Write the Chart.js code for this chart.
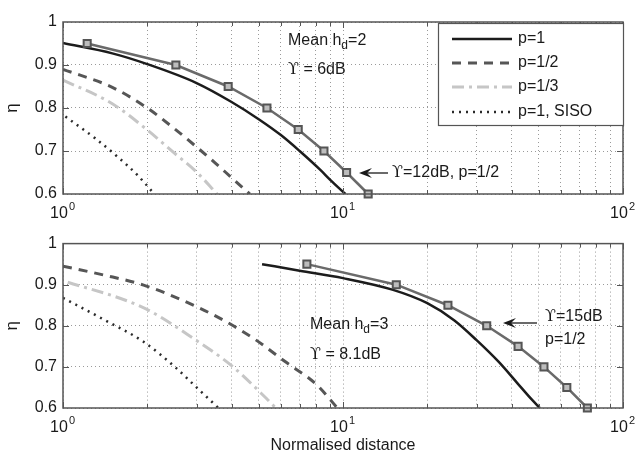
<!DOCTYPE html>
<html>
<head>
<meta charset="utf-8">
<script src="https://cdn.jsdelivr.net/npm/chart.js@4.4.1/dist/chart.umd.min.js"></script>
<style>
  body { margin: 0; background: #fff; }
  #wrap { position: relative; width: 636px; height: 456px; }
  canvas { position: absolute; left: 0; }
</style>
</head>
<body>
<div id="wrap">
  <canvas id="topChart" width="636" height="228" style="top:0"></canvas>
  <canvas id="botChart" width="636" height="228" style="top:228px"></canvas>
</div>
<script>
// grid positions on the log axis, and the labelled decades
const xGrid = [1, 2, 3, 4, 5, 6, 7, 8, 9, 10, 20, 30, 40, 50, 60, 70, 80, 90, 100];
const xTickValues = [1, 10, 100];
const xTickExps = ['0', '1', '2'];
const legendLabels = ['p=1', 'p=1/2', 'p=1/3', 'p=1, SISO'];

// top panel: mean h_d = 2, Y = 6dB
const topP1X = [1, 1.5, 2, 3, 4, 5, 6, 7, 8.3, 9, 10.2];
const topP1Y = [0.951, 0.927, 0.902, 0.858, 0.814, 0.774, 0.737, 0.70, 0.656, 0.633, 0.6];
const topP2X = [1, 1.5, 2, 2.5, 3.03, 3.5, 4, 4.65];
const topP2Y = [0.89, 0.848, 0.80, 0.752, 0.707, 0.672, 0.638, 0.6];
const topP3X = [1, 1.5, 2, 2.5, 3, 3.55];
const topP3Y = [0.865, 0.81, 0.749, 0.695, 0.651, 0.6];
const topSisoX = [1.02, 1.3, 1.57, 1.85, 2.12];
const topSisoY = [0.78, 0.73, 0.686, 0.643, 0.6];
const topSqX = [1.22, 2.53, 3.89, 5.35, 6.92, 8.55, 10.3, 12.3];
const topSqY = [0.95, 0.9, 0.85, 0.8, 0.75, 0.7, 0.65, 0.6];

// bottom panel: mean h_d = 3, Y = 8.1dB
const botP1X = [5.14, 7, 10, 15, 20, 25, 30, 36, 42, 47, 50.5];
const botP1Y = [0.95, 0.934, 0.916, 0.888, 0.855, 0.813, 0.765, 0.712, 0.66, 0.622, 0.6];
const botP2X = [1, 1.41, 1.94, 2.65, 3.64, 4.85, 6.21, 8.04, 9.55];
const botP2Y = [0.945, 0.923, 0.899, 0.863, 0.818, 0.767, 0.713, 0.657, 0.6];
const botP3X = [1.04, 1.69, 2.07, 2.88, 4.0, 5.33, 5.75];
const botP3Y = [0.906, 0.861, 0.834, 0.772, 0.703, 0.623, 0.6];
const botSisoX = [1, 1.4, 1.94, 2.51, 3.0, 3.59];
const botSisoY = [0.868, 0.815, 0.761, 0.70, 0.65, 0.6];
const botSqX = [7.43, 15.5, 23.7, 32.6, 42.2, 52.2, 63, 74.6];
const botSqY = [0.95, 0.9, 0.85, 0.8, 0.75, 0.7, 0.65, 0.6];

const FONT = "'Liberation Sans', Arial, sans-serif";
const SERIF = "'DejaVu Serif', 'Liberation Serif', serif";
const TEXT = '#1a1a1a';

// line styles shared by the curves and the legend
const styles = [
  { color: '#1c1c1c', width: 2.5, dash: [] },
  { color: '#565656', width: 3, dash: [9, 7] },
  { color: '#c6c6c6', width: 3, dash: [12, 5, 3, 5] },
  { color: '#2a2a2a', width: 2.5, dash: [2, 5] }
];

function pts(xs, ys) {
  return xs.map((x, i) => ({ x: x, y: ys[i] }));
}

function curve(xs, ys, st) {
  return {
    data: pts(xs, ys),
    borderColor: st.color,
    borderWidth: st.width,
    borderDash: st.dash,
    pointRadius: 0,
    cubicInterpolationMode: 'monotone',
    fill: false
  };
}

function squares(xs, ys) {
  return {
    data: pts(xs, ys),
    borderColor: '#6a6a6a',
    borderWidth: 2.5,
    pointStyle: 'rect',
    pointRadius: 5,
    pointBorderWidth: 2,
    pointBorderColor: '#555',
    pointBackgroundColor: '#bdbdbd',
    tension: 0,
    clip: false,
    fill: false
  };
}

function rich(ctx, x, y, parts) {
  let cx = x;
  parts.forEach(p => {
    ctx.font = p.font || ('16px ' + FONT);
    ctx.fillText(p.t, cx, y + (p.dy || 0));
    cx += ctx.measureText(p.t).width;
  });
}

function arrow(ctx, x1, x2, y) {
  ctx.save();
  ctx.strokeStyle = TEXT;
  ctx.fillStyle = TEXT;
  ctx.lineWidth = 1.3;
  ctx.setLineDash([]);
  ctx.beginPath();
  ctx.moveTo(x1, y);
  ctx.lineTo(x2 + 6, y);
  ctx.stroke();
  ctx.beginPath();
  ctx.moveTo(x2, y);
  ctx.lineTo(x2 + 13, y - 5);
  ctx.lineTo(x2 + 8, y);
  ctx.lineTo(x2 + 13, y + 5);
  ctx.closePath();
  ctx.fill();
  ctx.restore();
}

const U = { t: '\u03D2', font: '16px ' + SERIF };

const frame = {
  id: 'frame',
  afterDraw(chart, args, opts) {
    const ctx = chart.ctx;
    const a = chart.chartArea;
    const xs = chart.scales.x, ys = chart.scales.y;
    ctx.save();
    // inner tick marks
    ctx.strokeStyle = '#555';
    ctx.lineWidth = 1;
    ctx.beginPath();
    xGrid.forEach(v => {
      const px = Math.round(xs.getPixelForValue(v)) + 0.5;
      const len = xTickValues.includes(v) ? 6 : 4;
      ctx.moveTo(px, a.bottom); ctx.lineTo(px, a.bottom - len);
      ctx.moveTo(px, a.top); ctx.lineTo(px, a.top + len);
    });
    [0.7, 0.8, 0.9].forEach(v => {
      const py = Math.round(ys.getPixelForValue(v)) + 0.5;
      ctx.moveTo(a.left, py); ctx.lineTo(a.left + 6, py);
      ctx.moveTo(a.right, py); ctx.lineTo(a.right - 6, py);
    });
    ctx.stroke();
    // axes box
    ctx.strokeStyle = '#555';
    ctx.lineWidth = 1.5;
    ctx.strokeRect(a.left, a.top, a.right - a.left, a.bottom - a.top);

    // decade labels 10^n
    ctx.fillStyle = TEXT;
    ctx.textBaseline = 'middle';
    xTickValues.forEach((v, i) => {
      const px = xs.getPixelForValue(v);
      ctx.font = '16px ' + FONT;
      const w = ctx.measureText('10').width;
      ctx.textAlign = 'left';
      ctx.fillText('10', px - w / 2 - 4, a.bottom + 20);
      ctx.font = '11px ' + FONT;
      ctx.fillText(xTickExps[i], px + w / 2 - 3, a.bottom + 13);
    });
    ctx.textAlign = 'left';
    if (opts.draw) opts.draw(ctx, a);
    ctx.restore();
  }
};

function makeChart(id, datasets, xAxisHeight, xTitle, draw) {
  return new Chart(document.getElementById(id), {
    type: 'line',
    data: { datasets: datasets },
    options: {
      responsive: false,
      animation: false,
      events: [],
      layout: { padding: { left: 0, right: 13, top: id === 'topChart' ? 22 : 6, bottom: 0 } },
      plugins: {
        legend: { display: false },
        tooltip: { enabled: false },
        frame: { draw: draw }
      },
      scales: {
        x: {
          type: 'logarithmic',
          min: 1,
          max: 100,
          afterBuildTicks: s => { s.ticks = xGrid.map(v => ({ value: v })); },
          afterFit: s => { s.height = xAxisHeight; },
          ticks: { display: false },
          grid: { color: '#9a9a9a', lineWidth: 1, drawTicks: false },
          border: { display: false, dash: [1, 3] },
          title: {
            display: !!xTitle,
            text: xTitle || '',
            color: TEXT,
            font: { family: FONT, size: 16 },
            padding: { top: 0, bottom: 1 }
          }
        },
        y: {
          min: 0.6,
          max: 1,
          afterFit: s => { s.width = 63; },
          ticks: {
            stepSize: 0.1,
            padding: 6,
            color: TEXT,
            font: { family: FONT, size: 16 },
            callback: v => String(Number(v.toFixed(1)))
          },
          grid: { color: '#9a9a9a', lineWidth: 1, drawTicks: false },
          border: { display: false, dash: [1, 3] },
          title: {
            display: true,
            text: '\u03B7',
            color: TEXT,
            font: { family: FONT, size: 17 },
            padding: { top: 2, bottom: 2 }
          }
        }
      }
    },
    plugins: [frame]
  });
}

makeChart('topChart', [
  squares(topSqX, topSqY),
  curve(topP1X, topP1Y, styles[0]),
  curve(topP2X, topP2Y, styles[1]),
  curve(topP3X, topP3Y, styles[2]),
  curve(topSisoX, topSisoY, styles[3])
], 34, null, (ctx, a) => {
  ctx.fillStyle = TEXT;
  rich(ctx, 288, 41, [{ t: 'Mean h' }, { t: 'd', font: '12px ' + FONT, dy: 5 }, { t: '=2' }]);
  rich(ctx, 288, 70, [U, { t: ' = 6dB' }]);
  arrow(ctx, 388, 359, 173);
  rich(ctx, 392, 173, [U, { t: '=12dB, p=1/2' }]);

  // legend box
  ctx.fillStyle = '#fff';
  ctx.fillRect(438, 23, 185, 102);
  ctx.strokeStyle = '#555';
  ctx.lineWidth = 1.2;
  ctx.strokeRect(438.5, 23.5, 185, 102);
  const rows = [39, 63, 87, 112];
  legendLabels.forEach((lab, i) => {
    const st = styles[i];
    ctx.strokeStyle = st.color;
    ctx.lineWidth = st.width;
    ctx.setLineDash(st.dash);
    ctx.beginPath();
    ctx.moveTo(452, rows[i]);
    ctx.lineTo(512, rows[i]);
    ctx.stroke();
    ctx.setLineDash([]);
    ctx.fillStyle = TEXT;
    ctx.font = '16px ' + FONT;
    ctx.fillText(lab, 518, rows[i]);
  });
});

makeChart('botChart', [
  squares(botSqX, botSqY),
  curve(botP1X, botP1Y, styles[0]),
  curve(botP2X, botP2Y, styles[1]),
  curve(botP3X, botP3Y, styles[2]),
  curve(botSisoX, botSisoY, styles[3])
], 48, 'Normalised distance', (ctx, a) => {
  ctx.fillStyle = TEXT;
  rich(ctx, 310, 97, [{ t: 'Mean h' }, { t: 'd', font: '12px ' + FONT, dy: 5 }, { t: '=3' }]);
  rich(ctx, 310, 127, [U, { t: ' = 8.1dB' }]);
  arrow(ctx, 537, 503, 95);
  rich(ctx, 545, 89, [U, { t: '=15dB' }]);
  rich(ctx, 545, 112, [{ t: 'p=1/2' }]);
});
</script>
</body>
</html>
